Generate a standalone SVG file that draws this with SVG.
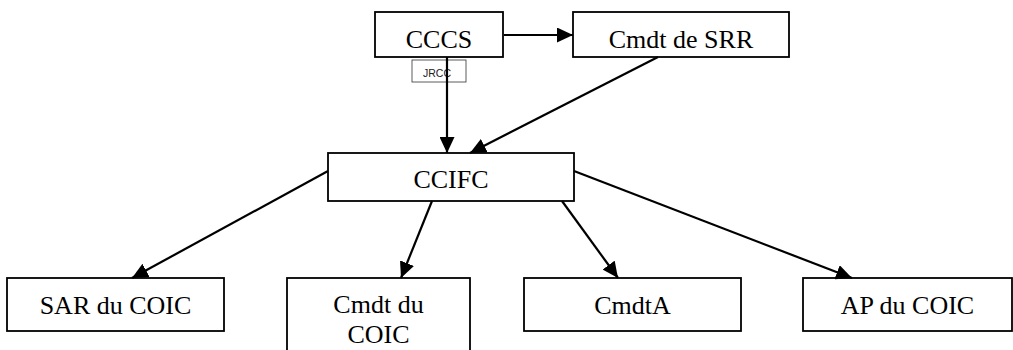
<svg xmlns="http://www.w3.org/2000/svg" width="1013" height="350" viewBox="0 0 1013 350">
<style>
.box{fill:#fff;stroke:#000;stroke-width:1.8}
.t{font-family:"Liberation Serif","Times New Roman",serif;font-size:26px;fill:#000;text-anchor:middle}
.small{font-family:"Liberation Sans",Arial,sans-serif;font-size:10.5px;fill:#222;text-anchor:middle}
.c{stroke:#000;stroke-width:2.2;fill:none;marker-end:url(#ah)}
</style>
<defs>
<marker id="ah" markerUnits="userSpaceOnUse" markerWidth="17" markerHeight="15" refX="16" refY="7.5" orient="auto">
<path d="M0,0 L16,7.5 L0,15 z" fill="#000"/>
</marker>
</defs>
<rect width="1013" height="350" fill="#fff"/>
<g id="n-cccs"><rect class="box" x="375" y="12" width="128" height="45"/><text class="t" x="439" y="48">CCCS</text></g>
<g id="n-srr"><rect class="box" x="573" y="12" width="216" height="45"/><text class="t" x="681" y="48">Cmdt de SRR</text></g>
<g id="n-jrcc"><rect x="412" y="60" width="54" height="22" fill="#fff" stroke="#333" stroke-width="0.8"/><text class="small" x="437" y="77">JRCC</text></g>
<g id="n-ccifc"><rect class="box" x="328" y="153" width="246" height="48"/><text class="t" x="451" y="188">CCIFC</text></g>
<g id="n-sar"><rect class="box" x="7" y="278" width="217" height="53"/><text class="t" x="115.5" y="314">SAR du COIC</text></g>
<g id="n-cmdtcoic"><rect class="box" x="287" y="278" width="183" height="90"/><text class="t" x="378.5" y="313">Cmdt du</text><text class="t" x="378.5" y="343">COIC</text></g>
<g id="n-cmdta"><rect class="box" x="524" y="278" width="217" height="53"/><text class="t" x="632.5" y="314">CmdtA</text></g>
<g id="n-ap"><rect class="box" x="803" y="278" width="209" height="53"/><text class="t" x="907.5" y="314">AP du COIC</text></g>
<g id="connectors">
<line class="c" x1="504" y1="35" x2="573" y2="35"/>
<line class="c" x1="447" y1="57" x2="447" y2="153"/>
<line class="c" x1="658" y1="57" x2="470" y2="153"/>
<line class="c" x1="328" y1="171" x2="132" y2="278"/>
<line class="c" x1="432" y1="201" x2="401" y2="278"/>
<line class="c" x1="562" y1="201" x2="618" y2="278"/>
<line class="c" x1="574" y1="171" x2="852" y2="278"/>
</g>
</svg>
